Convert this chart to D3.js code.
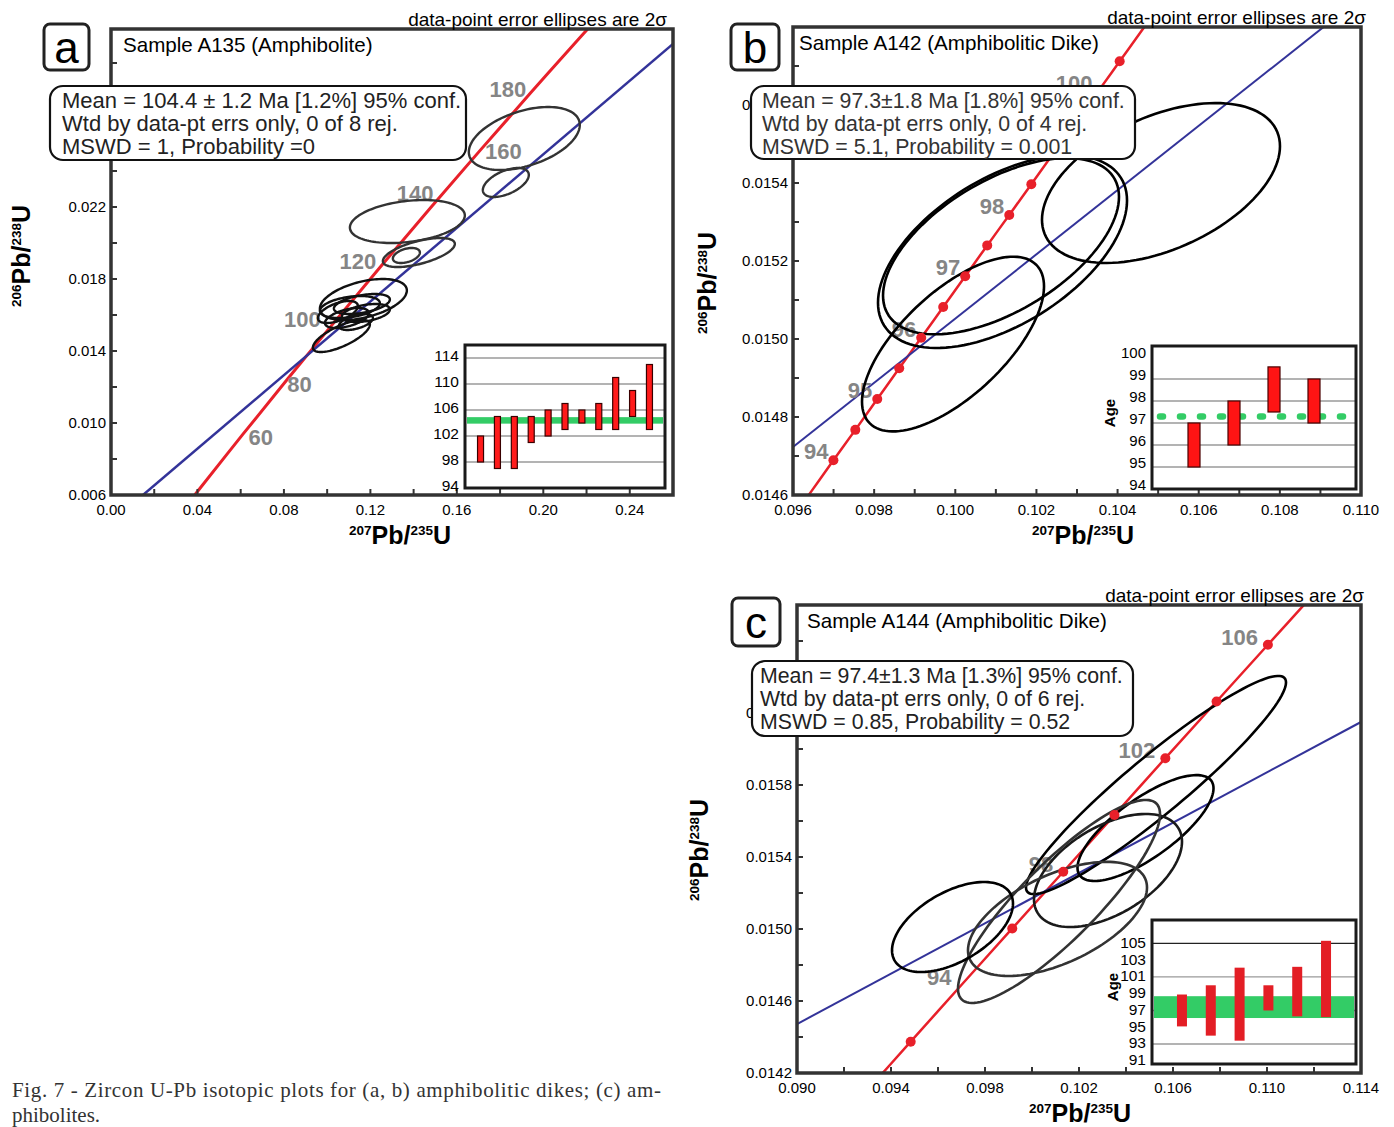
<!DOCTYPE html>
<html>
<head>
<meta charset="utf-8">
<script src="https://cdn.jsdelivr.net/npm/d3@7"></script>
<style>
  body { margin: 0; background: #fff; }
  svg { display: block; font-family: "Liberation Sans", Arial, sans-serif; }
</style>
</head>
<body>
<svg id="fig" width="1394" height="1127"></svg>
<script>
// ---------- panel a : Sample A135 ----------
const aConcAges = [30, 40, 60, 80, 100, 120, 140, 160, 180, 200, 210];
const aConcX = [0.02999, 0.04018, 0.06087, 0.08197, 0.10351, 0.12545, 0.14784, 0.17067, 0.19396, 0.21771, 0.22976];
const aConcY = [0.004665, 0.006224, 0.009351, 0.012487, 0.015633, 0.018789, 0.021955, 0.025131, 0.028316, 0.031511, 0.033113];
const aConcLabels = [60, 80, 100, 120, 140, 160, 180];
const aLine = [[0.0148, 0.006], [0.26, 0.03106]];
// [x, 2s x, y, 2s y, rho]
const aEllipses = [
  [0.19121, 0.025665, 0.025806, 0.00175, 0.43],
  [0.18266, 0.010636, 0.023361, 0.000806, 0.52],
  [0.13711, 0.026590, 0.021194, 0.001194, 0.28],
  [0.14243, 0.016647, 0.019472, 0.000806, 0.59],
  [0.13665, 0.006243, 0.019306, 0.000417, 0.40],
  [0.11676, 0.020116, 0.016861, 0.001139, 0.44],
  [0.10659, 0.013179, 0.014833, 0.000889, 0.72],
  [0.11052, 0.013873, 0.016444, 0.000611, 0.35],
  [0.11607, 0.012948, 0.016611, 0.000556, 0.45],
  [0.10913, 0.010173, 0.015833, 0.000556, 0.50],
  [0.10497, 0.009249, 0.016167, 0.000611, 0.55],
  [0.11792, 0.011098, 0.016111, 0.000500, 0.40],
  [0.11329, 0.007861, 0.015611, 0.000444, 0.50]
];
const aXTicks = [0, 0.04, 0.08, 0.12, 0.16, 0.20, 0.24];
const aYTicks = [0.006, 0.010, 0.014, 0.018, 0.022];
const aAgeLo = [98, 97, 97, 101, 102, 103, 104, 103, 103, 105, 103];
const aAgeHi = [102, 105, 105, 105, 106, 107, 106, 107, 111, 109, 113];
const aMean = [103.9, 104.9];
const aAgeTicks = [94, 98, 102, 106, 110, 114];
const aAgeGrid = [98, 102, 106, 110, 114];

// ---------- panel b : Sample A142 ----------
const bConcAges = [93, 93.5, 94, 94.5, 95, 95.5, 96, 96.5, 97, 97.5, 98, 98.5, 99, 99.5, 100, 100.5, 101, 101.5];
const bConcX = [0.095916, 0.096456, 0.096996, 0.097536, 0.098077, 0.098618, 0.099160, 0.099702, 0.100244, 0.100787,
  0.101330, 0.101874, 0.102418, 0.102962, 0.103507, 0.104052, 0.104597, 0.105143];
const bConcY = [0.014531, 0.014610, 0.014689, 0.014767, 0.014846, 0.014925, 0.015003, 0.015082, 0.015161, 0.015240,
  0.015318, 0.015397, 0.015476, 0.015555, 0.015633, 0.015712, 0.015791, 0.015870];
const bConcDots = [94, 94.5, 95, 95.5, 96, 96.5, 97, 97.5, 98, 98.5, 99, 99.5, 100, 100.5];
const bConcLabels = [94, 95, 96, 97, 98, 100];
const bLine = [[0.096, 0.014723], [0.110, 0.015876]];
const bEllipses = [
  [0.105070, 0.002933, 0.015400, 0.000205, 0.46],
  [0.101164, 0.003069, 0.015224, 0.000247, 0.53],
  [0.101127, 0.002908, 0.015238, 0.000226, 0.56],
  [0.099944, 0.002243, 0.014987, 0.000224, 0.66]
];
const bXTicks = [0.096, 0.098, 0.100, 0.102, 0.104, 0.106, 0.108, 0.110];
const bYTicks = [0.0146, 0.0148, 0.0150, 0.0152, 0.0154, 0.0156];
const bAgeLo = [95, 96, 97.5, 97];
const bAgeHi = [97, 98, 99.55, 99];
const bMean = 97.3;
const bAgeTicks = [94, 95, 96, 97, 98, 99, 100];
const bAgeGrid = [95, 96, 97, 98, 99];

// ---------- panel c : Sample A144 ----------
const cConcAges = [90, 92, 94, 96, 98, 100, 102, 104, 106, 108];
const cConcX = [0.092684, 0.094838, 0.096996, 0.099160, 0.101330, 0.103507, 0.105674, 0.107854, 0.110038, 0.112226];
const cConcY = [0.014059, 0.014374, 0.014689, 0.015003, 0.015318, 0.015633, 0.015949, 0.016264, 0.016579, 0.016895];
const cConcDots = [92, 96, 98, 100, 102, 104, 106];
const cConcLabels = [94, 98, 102, 106];
const cLine = [[0.090, 0.014472], [0.114, 0.016150]];
const cEllipses = [
  [0.105277, 0.005532, 0.015800, 0.000606, 0.94],
  [0.104830, 0.002894, 0.015561, 0.000294, 0.75],
  [0.103234, 0.003149, 0.015325, 0.000314, 0.51],
  [0.101149, 0.004298, 0.015153, 0.000564, 0.86],
  [0.101085, 0.003809, 0.015056, 0.000317, 0.55],
  [0.096617, 0.002574, 0.015011, 0.000250, 0.52]
];
const cXTicks = [0.090, 0.094, 0.098, 0.102, 0.106, 0.110, 0.114];
const cYTicks = [0.0142, 0.0146, 0.0150, 0.0154, 0.0158, 0.0162];
const cAgeLo = [95.1, 94, 93.4, 97, 96.3, 96.2];
const cAgeHi = [98.9, 100, 102.1, 100, 102.2, 105.3];
const cMean = [96.1, 98.7];
const cAgeTicks = [91, 93, 95, 97, 99, 101, 103, 105];
const cAgeGrid = [93, 97, 101, 105];

const svg = d3.select('#fig');
const RED = '#e8202a', BLUE = '#333399', FRAME = '#333';

function ellipsePoints(e) {
  const [cx, sx, cy, sy, r] = e;
  return d3.range(0, 361, 3).map(a => {
    const t = a * Math.PI / 180;
    return [cx + sx * Math.cos(t), cy + sy * (r * Math.cos(t) + Math.sqrt(1 - r * r) * Math.sin(t))];
  });
}

function isoText(sel, top, size, sup) {
  sel.append('tspan').attr('font-size', sup).attr('dy', -size * 0.38).text(top[0]);
  sel.append('tspan').attr('font-size', size).attr('dy', size * 0.38).text('Pb/');
  sel.append('tspan').attr('font-size', sup).attr('dy', -size * 0.38).text(top[1]);
  sel.append('tspan').attr('font-size', size).attr('dy', size * 0.38).text('U');
}

function drawPanel(p) {
  const g = svg.append('g');
  const x = d3.scaleLinear().domain(p.xDomain).range([p.left, p.right]);
  const y = d3.scaleLinear().domain(p.yDomain).range([p.bottom, p.top]);

  const clipId = 'clip-' + p.id;
  g.append('clipPath').attr('id', clipId).append('rect')
    .attr('x', p.left).attr('y', p.top)
    .attr('width', p.right - p.left).attr('height', p.bottom - p.top);

  const plot = g.append('g').attr('clip-path', `url(#${clipId})`);
  const line = d3.line().x(d => x(d[0])).y(d => y(d[1]));

  // concordia
  const conc = p.concAges.map((a, i) => [p.concX[i], p.concY[i]]);
  plot.append('path').attr('d', line.curve(d3.curveCatmullRom)(conc))
    .attr('fill', 'none').attr('stroke', RED).attr('stroke-width', p.concWidth);
  line.curve(d3.curveLinear);

  // regression line
  plot.append('path').attr('d', line(p.line))
    .attr('fill', 'none').attr('stroke', BLUE).attr('stroke-width', p.lineWidth);

  // concordia age labels
  p.concLabels.forEach((age, i) => {
    const k = p.concAges.indexOf(age);
    const off = p.labelOffsets[i];
    plot.append('text')
      .attr('x', x(p.concX[k]) + off[0]).attr('y', y(p.concY[k]) + off[1])
      .attr('dy', '0.36em').attr('text-anchor', off[2])
      .attr('font-size', p.labelSize).attr('font-weight', 'bold').attr('fill', '#858585')
      .text(age);
  });

  // error ellipses
  plot.selectAll('path.ell').data(p.ellipses).enter().append('path')
    .attr('class', 'ell')
    .attr('d', e => line(ellipsePoints(e)) + 'Z')
    .attr('fill', 'none')
    .attr('stroke', (e, i) => p.ellColors[i])
    .attr('stroke-width', p.ellWidth);

  // concordia dots
  if (p.concDots) {
    plot.selectAll('circle.dot').data(p.concDots).enter().append('circle')
      .attr('cx', a => x(p.concX[p.concAges.indexOf(a)]))
      .attr('cy', a => y(p.concY[p.concAges.indexOf(a)]))
      .attr('r', 5).attr('fill', RED);
  }

  // ticks (inside)
  const tl = 6;
  const xt = g.append('g');
  d3.range(p.xDomain[0], p.xDomain[1] + 1e-9, p.xMinor).forEach(v => {
    xt.append('line').attr('x1', x(v)).attr('x2', x(v))
      .attr('y1', p.bottom).attr('y2', p.bottom - tl)
      .attr('stroke', FRAME).attr('stroke-width', 2);
  });
  d3.range(p.yDomain[0], p.yDomain[1] + 1e-12, p.yMinor).forEach(v => {
    xt.append('line').attr('x1', p.left).attr('x2', p.left + tl)
      .attr('y1', y(v)).attr('y2', y(v))
      .attr('stroke', FRAME).attr('stroke-width', 2);
  });
  g.selectAll('text.xt').data(p.xTicks).enter().append('text')
    .attr('x', d => x(d)).attr('y', p.bottom + 20)
    .attr('text-anchor', 'middle').attr('font-size', 15)
    .text(d => d3.format(p.xFmt)(d));
  g.selectAll('text.yt').data(p.yTicks).enter().append('text')
    .attr('x', p.left - 5).attr('y', d => y(d)).attr('dy', '0.35em')
    .attr('text-anchor', 'end').attr('font-size', 15)
    .text(d => d3.format(p.yFmt)(d));

  // frame
  g.append('rect').attr('x', p.left).attr('y', p.top)
    .attr('width', p.right - p.left).attr('height', p.bottom - p.top)
    .attr('fill', 'none').attr('stroke', FRAME).attr('stroke-width', 3.5);

  // axis titles
  const xtl = g.append('text').attr('x', (p.left + p.right) / 2 + p.xTitleDx).attr('y', p.bottom + 49)
    .attr('text-anchor', 'middle').attr('font-weight', 'bold');
  isoText(xtl, ['207', '235'], 25, 13.5);
  const ytl = g.append('text')
    .attr('transform', `translate(${p.yTitleX},${p.yTitleY}) rotate(-90)`)
    .attr('text-anchor', 'middle').attr('font-weight', 'bold');
  isoText(ytl, ['206', '238'], 25, 13.5);

  // inset: weighted mean ages
  const ins = p.inset;
  const ig = g.append('g');
  const iy = d3.scaleLinear().domain(ins.domain).range([ins.bottom, ins.top]);
  const ix = d3.scalePoint().domain(d3.range(ins.lo.length)).range([ins.left, ins.right]).padding(ins.padding);
  ig.append('rect').attr('x', ins.left).attr('y', ins.top)
    .attr('width', ins.right - ins.left).attr('height', ins.bottom - ins.top).attr('fill', '#fff');
  ig.selectAll('line.grid').data(ins.grid).enter().append('line')
    .attr('x1', ins.left).attr('x2', ins.right)
    .attr('y1', d => iy(d)).attr('y2', d => iy(d))
    .attr('stroke', d => d === ins.darkGrid ? '#222' : '#9a9a9a').attr('stroke-width', 1.4);
  if (ins.band) {
    ig.append('rect').attr('x', ins.left + 2).attr('y', iy(ins.band[1]))
      .attr('width', ins.right - ins.left - 4).attr('height', iy(ins.band[0]) - iy(ins.band[1]))
      .attr('fill', '#33cc66');
  }
  if (ins.meanLine !== undefined) {
    ig.append('line').attr('x1', ins.left + 8).attr('x2', ins.right - 6)
      .attr('y1', iy(ins.meanLine)).attr('y2', iy(ins.meanLine))
      .attr('stroke', '#33cc66').attr('stroke-width', 6.5)
      .attr('stroke-linecap', 'round').attr('stroke-dasharray', '3 17');
  }
  ig.selectAll('rect.bar').data(ins.lo).enter().append('rect')
    .attr('x', (d, i) => ix(i) - ins.barWidth / 2)
    .attr('y', (d, i) => iy(ins.hi[i]))
    .attr('width', ins.barWidth)
    .attr('height', (d, i) => iy(d) - iy(ins.hi[i]))
    .attr('fill', ins.barFill).attr('stroke', ins.barStroke).attr('stroke-width', 1.2);
  ig.append('rect').attr('x', ins.left).attr('y', ins.top)
    .attr('width', ins.right - ins.left).attr('height', ins.bottom - ins.top)
    .attr('fill', 'none').attr('stroke', '#1a1a1a').attr('stroke-width', 3);
  ig.selectAll('text.it').data(ins.ticks).enter().append('text')
    .attr('x', ins.left - 6).attr('y', d => iy(d) + ins.labelDy).attr('dy', '0.35em')
    .attr('text-anchor', 'end').attr('font-size', ins.fontSize)
    .text(d => d);
  if (ins.ageLabel) {
    ig.append('text').attr('transform', `translate(${ins.ageLabel[0]},${ins.ageLabel[1]}) rotate(-90)`)
      .attr('text-anchor', 'middle').attr('dy', '0.35em')
      .attr('font-size', 15).attr('font-weight', 'bold').text('Age');
  }

  // statistics box
  const bx = p.box;
  g.append('rect').attr('x', bx.x).attr('y', bx.y).attr('width', bx.w).attr('height', bx.h)
    .attr('rx', 13).attr('fill', '#fff').attr('stroke', '#111').attr('stroke-width', 2.2);
  bx.lines.forEach((t, i) => {
    g.append('text').attr('x', bx.x + bx.pad).attr('y', bx.y + 22 + i * 23)
      .attr('font-size', bx.size).attr('fill', bx.color).text(t);
  });

  // panel letter
  const lt = p.letter;
  g.append('rect').attr('x', lt.x).attr('y', lt.y).attr('width', lt.w).attr('height', lt.h)
    .attr('rx', 6).attr('fill', '#fff').attr('stroke', '#222').attr('stroke-width', 3);
  g.append('text').attr('x', lt.x + lt.w / 2).attr('y', lt.y + lt.h / 2).attr('dy', '0.36em')
    .attr('text-anchor', 'middle').attr('font-size', 44).text(lt.t);

  // sample title and note
  g.append('text').attr('x', p.left + p.titleDx).attr('y', p.top + 23)
    .attr('font-size', 20.6).text(p.title);
  g.append('text').attr('x', p.noteX).attr('y', p.top - 3)
    .attr('text-anchor', 'end').attr('font-size', 19).text('data-point error ellipses are 2σ');
}

drawPanel({
  id: 'a', left: 111, right: 673, top: 29, bottom: 495,
  xDomain: [0, 0.26], yDomain: [0.006, 0.006 + 466 / 18000],
  xMinor: 0.02, yMinor: 0.002, xTicks: aXTicks, yTicks: aYTicks, xFmt: '.2f', yFmt: '.3f',
  concAges: aConcAges, concX: aConcX, concY: aConcY, concLabels: aConcLabels,
  labelOffsets: [[6, 2, 'start'], [-1, 6, 'start'], [-14, -3, 'end'], [-6, -4, 'end'], [3, -15, 'end'], [5, 0, 'start'], [-4, -4, 'end']],
  labelSize: 22, concWidth: 3, lineWidth: 2.5,
  line: aLine, ellipses: aEllipses, ellWidth: 2.4,
  ellColors: ['#333', '#333', '#333', '#333', '#333', '#111', '#111', '#111', '#111', '#111', '#111', '#111', '#111'],
  xTitleDx: 8, yTitleX: 30, yTitleY: 256, titleDx: 12,
  inset: { left: 465, right: 665, top: 345, bottom: 488, domain: [94, 116], padding: 0.92,
    lo: aAgeLo, hi: aAgeHi, band: aMean, grid: aAgeGrid, ticks: aAgeTicks, labelDy: -2, fontSize: 15.5,
    barWidth: 6, barFill: '#ff1a1a', barStroke: '#3a0000' },
  box: { x: 50, y: 86, w: 416, h: 74, pad: 12, size: 22, color: '#222', lines: [
    'Mean = 104.4 ± 1.2 Ma [1.2%] 95% conf.',
    'Wtd by data-pt errs only, 0 of 8 rej.',
    'MSWD = 1, Probability =0'] },
  letter: { x: 44, y: 24, w: 45, h: 46, t: 'a' },
  title: 'Sample A135 (Amphibolite)', noteX: 667
});

drawPanel({
  id: 'b', left: 793, right: 1361, top: 27, bottom: 495,
  xDomain: [0.096, 0.110], yDomain: [0.0146, 0.0158],
  xMinor: 0.001, yMinor: 0.0001, xTicks: bXTicks, yTicks: bYTicks, xFmt: '.3f', yFmt: '.4f',
  concAges: bConcAges, concX: bConcX, concY: bConcY, concLabels: bConcLabels, concDots: bConcDots,
  labelOffsets: [[-5, -9, 'end'], [-5, -9, 'end'], [-5, -9, 'end'], [-5, -9, 'end'], [-5, -9, 'end'], [-5, -9, 'end']],
  labelSize: 22, concWidth: 2.5, lineWidth: 2,
  line: bLine, ellipses: bEllipses, ellWidth: 2.6,
  ellColors: ['#000', '#000', '#000', '#000'],
  xTitleDx: 6, yTitleX: 716, yTitleY: 283, titleDx: 6,
  inset: { left: 1152, right: 1356, top: 346, bottom: 489, domain: [94, 100.5], padding: 1.05,
    lo: bAgeLo, hi: bAgeHi, meanLine: bMean, grid: bAgeGrid, ticks: bAgeTicks, labelDy: -4, fontSize: 15,
    barWidth: 12, barFill: '#ff1414', barStroke: '#4a0000', ageLabel: [1110, 413] },
  box: { x: 751, y: 86, w: 384, h: 73, pad: 11, size: 21.3, color: '#333', lines: [
    'Mean = 97.3±1.8 Ma [1.8%] 95% conf.',
    'Wtd by data-pt errs only, 0 of 4 rej.',
    'MSWD = 5.1, Probability = 0.001'] },
  letter: { x: 731, y: 24, w: 48, h: 46, t: 'b' },
  title: 'Sample A142 (Amphibolitic Dike)', noteX: 1366
});

drawPanel({
  id: 'c', left: 797, right: 1361, top: 605, bottom: 1073,
  xDomain: [0.090, 0.114], yDomain: [0.0142, 0.0168],
  xMinor: 0.002, yMinor: 0.0002, xTicks: cXTicks, yTicks: cYTicks, xFmt: '.3f', yFmt: '.4f',
  concAges: cConcAges, concX: cConcX, concY: cConcY, concLabels: cConcLabels, concDots: cConcDots,
  labelOffsets: [[-10, -8, 'end'], [-10, -8, 'end'], [-10, -8, 'end'], [-10, -8, 'end']],
  labelSize: 22, concWidth: 2.5, lineWidth: 2,
  line: cLine, ellipses: cEllipses, ellWidth: 2.6,
  ellColors: ['#000', '#000', '#1a1a1a', '#333', '#333', '#000'],
  xTitleDx: 1, yTitleX: 708, yTitleY: 850, titleDx: 10,
  inset: { left: 1152, right: 1356, top: 920, bottom: 1064, domain: [90.62, 107.78], padding: 1.04,
    lo: cAgeLo, hi: cAgeHi, band: cMean, grid: cAgeGrid, darkGrid: 105, ticks: cAgeTicks, labelDy: -1, fontSize: 15.5,
    barWidth: 10, barFill: '#e31e25', barStroke: 'none', ageLabel: [1113, 987] },
  box: { x: 752, y: 661, w: 381, h: 75, pad: 8, size: 21.3, color: '#222', lines: [
    'Mean = 97.4±1.3 Ma [1.3%] 95% conf.',
    'Wtd by data-pt errs only, 0 of 6 rej.',
    'MSWD = 0.85, Probability = 0.52'] },
  letter: { x: 732, y: 598, w: 48, h: 48, t: 'c' },
  title: 'Sample A144 (Amphibolitic Dike)', noteX: 1364
});

// caption
const cap = svg.append('g').attr('font-family', '"Liberation Serif", "Times New Roman", serif')
  .attr('font-size', 21).attr('fill', '#333');
cap.append('text').attr('x', 12).attr('y', 1097)
  .attr('textLength', 649).attr('lengthAdjust', 'spacing')
  .text('Fig. 7 - Zircon U-Pb isotopic plots for (a, b) amphibolitic dikes; (c) am-');
cap.append('text').attr('x', 12).attr('y', 1122).text('phibolites.');
</script>
</body>
</html>
